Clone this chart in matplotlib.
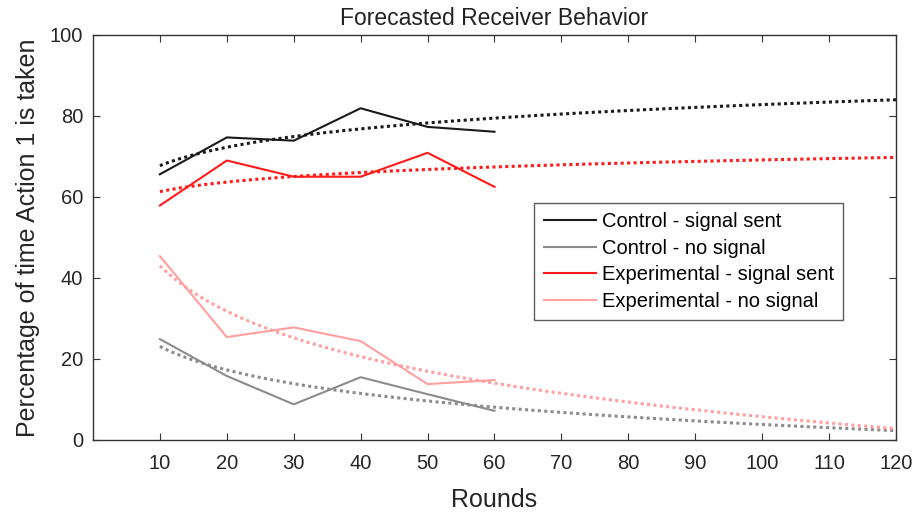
import numpy as np
import matplotlib.pyplot as plt

plt.rcParams['font.family'] = ['Liberation Sans', 'DejaVu Sans']

rounds = [10, 20, 30, 40, 50, 60]
control_sent = [65.6, 74.7, 73.9, 81.9, 77.3, 76.1]
control_none = [24.9, 15.8, 8.8, 15.5, 11.3, 7.2]
exp_sent = [57.9, 69.0, 65.0, 65.0, 70.9, 62.5]
exp_none = [45.4, 25.4, 27.8, 24.4, 13.8, 14.8]

labels = ['Control - signal sent', 'Control - no signal',
          'Experimental - signal sent', 'Experimental - no signal']
colors = ['#1a1a1a', '#8c8c8c', '#ff1a1a', '#ff9f9f']
x_ticks = [10, 20, 30, 40, 50, 60, 70, 80, 90, 100, 110, 120]

fig = plt.figure(figsize=(9.17, 5.14), dpi=100)
ax = fig.add_axes([0.1014, 0.144, 0.8757, 0.788])

# logarithmic trendlines, fitted to each series and extended to 120 rounds
x_fit = np.linspace(10, 120, 300)
series = [control_sent, control_none, exp_sent, exp_none]
for ys, c, lab in zip(series, colors, labels):
    ax.plot(rounds, ys, color=c, lw=1.5, label=lab)
    b, a = np.polyfit(np.log(rounds), ys, 1)
    ax.plot(x_fit, a + b * np.log(x_fit), color=c, lw=2.2,
            linestyle=(0, (1, 1.1)))

ax.set_xlim(0, 120)
ax.set_ylim(0, 100)
ax.set_xticks(x_ticks)
ax.set_yticks([0, 20, 40, 60, 80, 100])
ax.tick_params(direction='in', top=True, right=True, length=5,
               labelsize=14.5, color='#333333', labelcolor='#262626')
ax.tick_params(axis='x', pad=10)
ax.tick_params(axis='y', pad=7)
for s in ax.spines.values():
    s.set_color('#333333')
    s.set_linewidth(1.0)

ax.set_title('Forecasted Receiver Behavior', fontsize=16.5, color='#222222', pad=7)
ax.set_xlabel('Rounds', fontsize=18, color='#262626', labelpad=11)
ax.set_ylabel('Percentage of time Action 1 is taken', fontsize=18,
              color='#262626', labelpad=7)

leg = ax.legend(loc='upper left', bbox_to_anchor=(0.5498, 0.585), fontsize=14.5,
                frameon=True, fancybox=False, handlelength=2.6,
                handletextpad=0.3, borderpad=0.45, labelspacing=0.38,
                borderaxespad=0)
leg.get_frame().set_edgecolor('#333333')
leg.get_frame().set_linewidth(1.0)

fig.savefig('out.png', dpi=100)
